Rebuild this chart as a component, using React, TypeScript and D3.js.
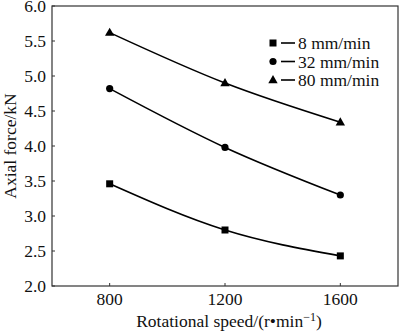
import React from "react";
import * as d3 from "d3";

const speeds = [800, 1200, 1600];
const force8 = [3.46, 2.8, 2.43];
const force32 = [4.82, 3.98, 3.3];
const force80 = [5.62, 4.9, 4.34];
const seriesNames = ["8 mm/min", "32 mm/min", "80 mm/min"];
const markers = ["square", "circle", "triangle"];
const yTicks = [2.0, 2.5, 3.0, 3.5, 4.0, 4.5, 5.0, 5.5, 6.0];
const xTicks = [800, 1200, 1600];

const W = 400, H = 333;
const L = 52, R = 398, T = 6, B = 286;
const FONT = "Liberation Serif";
const fs = { fontFamily: FONT };

function Marker({ type, x, y }: { type: string; x: number; y: number }) {
  if (type === "square") return <rect x={x - 3.5} y={y - 3.5} width={7} height={7} fill="#000" />;
  if (type === "circle") return <circle cx={x} cy={y} r={3.6} fill="#000" />;
  return <path d={d3.symbol(d3.symbolTriangle, 38)() || ""} transform={`translate(${x},${y + 0.5})`} fill="#000" />;
}

export default function App() {
  const x = d3.scaleLinear().domain([600, 1800]).range([L, R]);
  const y = d3.scaleLinear().domain([2, 6]).range([B, T]);
  const data = [force8, force32, force80];
  const line = d3
    .line<number>()
    .x((_, i) => x(speeds[i]))
    .y((d) => y(d))
    .curve(d3.curveNatural);

  return (
    <svg width={W} height={H} style={{ position: "absolute", left: 0, top: 0, background: "#fff" }}>
      <rect x={0} y={0} width={W} height={H} fill="#fff" />
      <rect x={L} y={T} width={R - L} height={B - T} fill="none" stroke="#333" strokeWidth={1.2} />
      {yTicks.map((t) => (
        <g key={t}>
          <line x1={L} x2={L + 3} y1={y(t)} y2={y(t)} stroke="#333" />
          <text x={L - 6} y={y(t)} dy="0.35em" textAnchor="end" fontSize={17.5} fill="#111" style={fs}>
            {t.toFixed(1)}
          </text>
        </g>
      ))}
      {xTicks.map((t) => (
        <g key={t}>
          <line x1={x(t)} x2={x(t)} y1={B} y2={B - 3} stroke="#333" />
          <text x={x(t)} y={B + 19} textAnchor="middle" fontSize={17.5} fill="#111" style={fs}>
            {t}
          </text>
        </g>
      ))}
      <text transform={`translate(16,${(T + B) / 2}) rotate(-90)`} textAnchor="middle" fontSize={17.5} fill="#111" style={fs}>
        Axial force/kN
      </text>
      <text x={229} y={327} textAnchor="middle" fontSize={17.5} fill="#111" style={fs}>
        Rotational speed/(r•min
        <tspan dy={-6} fontSize={12}>−1</tspan>
        <tspan dy={6}>)</tspan>
      </text>
      {data.map((s, si) => (
        <g key={si}>
          <path d={line(s) || ""} fill="none" stroke="#000" strokeWidth={1.6} />
          {s.map((v, i) => (
            <Marker key={i} type={markers[si]} x={x(speeds[i])} y={y(v)} />
          ))}
        </g>
      ))}
      {seriesNames.map((n, i) => (
        <g key={n} transform={`translate(273,${43 + i * 18.5})`}>
          <Marker type={markers[i]} x={0} y={0} />
          <line x1={8} x2={22} y1={0} y2={0} stroke="#000" strokeWidth={1.6} />
          <text x={25} y={0} dy="0.35em" fontSize={17.5} fill="#111" style={fs}>
            {n}
          </text>
        </g>
      ))}
    </svg>
  );
}
